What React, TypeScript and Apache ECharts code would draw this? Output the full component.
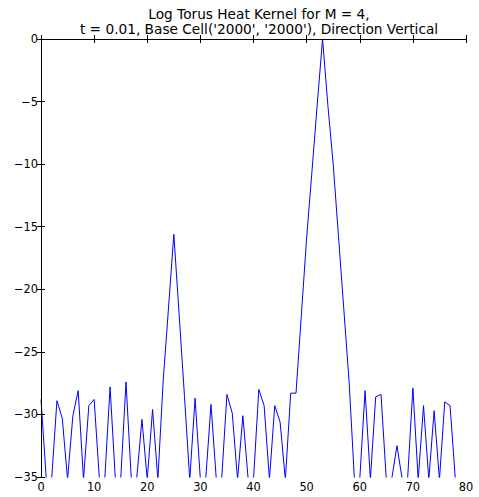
import React, { useEffect, useRef } from "react";
import * as echarts from "echarts";

const TITLE_LINES = [
  "Log Torus Heat Kernel for M = 4,",
  "t = 0.01, Base Cell('2000', '2000'), Direction Vertical",
];

// x positions 0..78 (one value per cell along the direction)
const logKernel = [
  -28.8, -35.2, -35.2, -28.9, -30.3, -35.2, -30.1, -28.1, -35.2, -29.3,
  -28.8, -35.2, -35.2, -27.8, -35.2, -35.2, -27.4, -35.2, -35.2, -30.4,
  -35.2, -29.6, -35.2, -27.3, -21.5, -15.6, -22.0, -28.5, -35.2, -28.7,
  -35.2, -35.2, -29.2, -35.2, -35.2, -28.4, -29.9, -35.2, -30.1, -35.2,
  -35.2, -28.0, -29.3, -35.2, -29.3, -30.6, -35.2, -28.3, -28.3, -22.1,
  -15.9, -10.6, -5.2, 0, -5.3, -10.0, -15.8, -21.6, -27.4, -35.2,
  -35.2, -28.1, -35.2, -28.6, -28.4, -35.2, -35.2, -32.5, -35.2, -35.2,
  -27.9, -35.2, -29.3, -35.2, -29.7, -35.2, -29.0, -29.3, -35.2,
];

const X_MIN = 0;
const X_MAX = 80;
const X_STEP = 10;
const Y_MIN = -35;
const Y_MAX = 0;
const Y_STEP = 5;

const FONT = "DejaVu Sans";
const fmt = (v: number) => String(v).replace("-", "\u2212");

export default function App() {
  const ref = useRef<HTMLDivElement>(null);
  useEffect(() => {
    if (!ref.current) return;
    const chart = echarts.init(ref.current, null, { renderer: "svg" });
    const common = {
      axisLine: { show: true, lineStyle: { color: "#000", width: 1 } },
      axisTick: { show: true, inside: true, length: 4, lineStyle: { color: "#000", width: 1 } },
      splitLine: { show: false },
      z: 5,
    };
    const label = {
      fontFamily: FONT,
      fontSize: 11.4,
      color: "#000",
      formatter: fmt,
      showMinLabel: true,
      showMaxLabel: true,
    };
    chart.setOption({
      animation: false,
      backgroundColor: "#fff",
      title: {
        text: TITLE_LINES.join("\n"),
        left: 254,
        top: 1,
        textAlign: "center",
        textStyle: {
          fontFamily: FONT,
          fontSize: 13.7,
          fontWeight: "normal",
          color: "#000",
          lineHeight: 15,
        },
      },
      grid: { left: 41, right: 13, top: 39, bottom: 20, containLabel: false },
      xAxis: [
        {
          type: "value",
          min: X_MIN,
          max: X_MAX,
          interval: X_STEP,
          position: "bottom",
          ...common,
          axisLabel: { ...label, margin: 4 },
        },
        {
          type: "value",
          min: X_MIN,
          max: X_MAX,
          interval: X_STEP,
          position: "top",
          ...common,
          axisLabel: { show: false },
        },
      ],
      yAxis: [
        {
          type: "value",
          min: Y_MIN,
          max: Y_MAX,
          interval: Y_STEP,
          position: "left",
          ...common,
          axisLabel: { ...label, margin: 3 },
        },
        {
          type: "value",
          min: Y_MIN,
          max: Y_MAX,
          interval: Y_STEP,
          position: "right",
          ...common,
          axisLabel: { show: false },
        },
      ],
      series: [
        {
          type: "line",
          xAxisIndex: 0,
          yAxisIndex: 0,
          data: logKernel.map((v, i) => [i, v]),
          showSymbol: false,
          symbol: "none",
          clip: true,
          lineStyle: { color: "#0000ff", width: 1 },
          itemStyle: { color: "#0000ff" },
        },
      ],
    });
    return () => chart.dispose();
  }, []);
  return (
    <div
      ref={ref}
      style={{ position: "fixed", left: 0, top: 0, width: 479, height: 497, background: "#fff" }}
    />
  );
}
